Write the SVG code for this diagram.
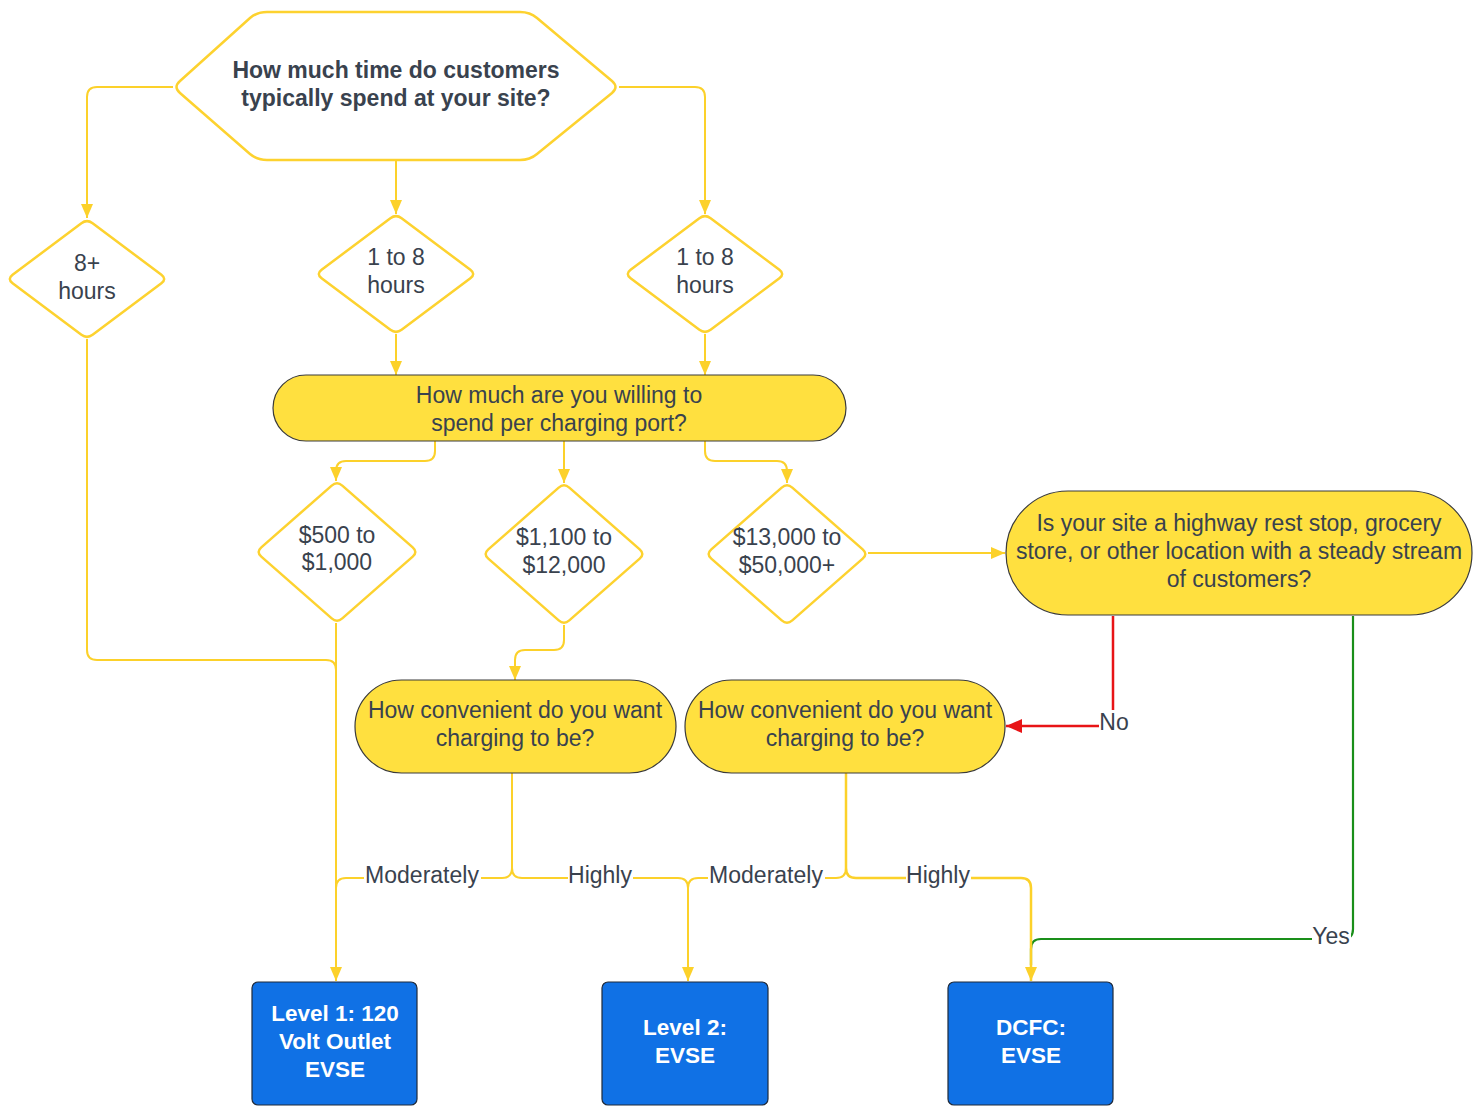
<svg xmlns="http://www.w3.org/2000/svg" width="1481" height="1106" viewBox="0 0 1481 1106">
<style>
  .t{font-family:"Liberation Sans",Arial,sans-serif;font-size:23px;fill:#39424e;text-anchor:middle}
  .tb{font-weight:bold}
  .w{font-family:"Liberation Sans",Arial,sans-serif;font-size:22.5px;font-weight:bold;fill:#ffffff;text-anchor:middle}
  .dia{fill:#ffffff;stroke:#fdd22f;stroke-width:2.5}
  .pill{fill:#ffe03f;stroke:#3a3a3a;stroke-width:1.2}
  .box{fill:#1071e5;stroke:#1f2a3a;stroke-width:1.2}
  .c{fill:none;stroke:#fcd12a;stroke-width:2}
  .cr{fill:none;stroke:#e81416;stroke-width:2.5}
  .cg{fill:none;stroke:#1a8f1a;stroke-width:2.2}
  .lb{fill:#ffffff}
</style>
<defs>
  <marker id="ay" viewBox="0 0 14 12" refX="14" refY="6" markerWidth="14" markerHeight="12" markerUnits="userSpaceOnUse" orient="auto">
    <path d="M0,0 L14,6 L0,12 Z" fill="#fcd12a"/>
  </marker>
  <marker id="ar" viewBox="0 0 16 14" refX="16" refY="7" markerWidth="16" markerHeight="14" markerUnits="userSpaceOnUse" orient="auto">
    <path d="M0,0 L16,7 L0,14 Z" fill="#e81416"/>
  </marker>
  <path id="d1" d="M -5.6,-55.8 Q 0,-60 5.6,-55.8 L 74.4,-4.2 Q 80,0 74.4,4.2 L 5.6,55.8 Q 0,60 -5.6,55.8 L -74.4,4.2 Q -80,0 -74.4,-4.2 Z"/>
  <path id="d2" d="M -5.3,-66.4 Q 0,-71 5.3,-66.4 L 75.7,-4.6 Q 81,0 75.7,4.6 L 5.3,66.4 Q 0,71 -5.3,66.4 L -75.7,4.6 Q -81,0 -75.7,-4.6 Z"/>
</defs>
<rect width="1481" height="1106" fill="#ffffff"/>

<g id="connectors">
  <path class="c" d="M173,87 H97 Q87,87 87,97 V218" marker-end="url(#ay)"/>
  <path class="c" d="M396,160 V214" marker-end="url(#ay)"/>
  <path class="c" d="M619,87 H695 Q705,87 705,97 V214" marker-end="url(#ay)"/>
  <path class="c" d="M396,334 V375" marker-end="url(#ay)"/>
  <path class="c" d="M705,334 V375" marker-end="url(#ay)"/>
  <path class="c" d="M87,339 V650 Q87,660 97,660 H326 Q336,660 336,670"/>
  <path class="c" d="M336,623 V981" marker-end="url(#ay)"/>
  <path class="c" d="M435,441 V451 Q435,461 425,461 H346 Q336,461 336,471 V481" marker-end="url(#ay)"/>
  <path class="c" d="M564,441 V483" marker-end="url(#ay)"/>
  <path class="c" d="M705,441 V451 Q705,461 715,461 H777 Q787,461 787,471 V483" marker-end="url(#ay)"/>
  <path class="c" d="M868,553 H1005" marker-end="url(#ay)"/>
  <path class="c" d="M564,625 V640 Q564,650 554,650 H525 Q515,650 515,660 V680" marker-end="url(#ay)"/>
  <path class="c" d="M512,773 V868 Q512,878 502,878 H346 Q336,878 336,888"/>
  <path class="c" d="M512,773 V868 Q512,878 522,878 H678 Q688,878 688,888 V981" marker-end="url(#ay)"/>
  <path class="c" d="M846,773 V868 Q846,878 836,878 H698 Q688,878 688,888"/>
  <path class="cg" d="M1353,616 V929 Q1353,939 1343,939 H1041 Q1031,939 1031,949 V965"/>
  <path class="c" style="stroke-width:2.5" d="M846,773 V868 Q846,878 856,878 H1021 Q1031,878 1031,888 V981" marker-end="url(#ay)"/>
  <path class="cr" d="M1113,616 V726 H1006" marker-end="url(#ar)"/>

  <rect class="lb" x="364" y="864" width="117" height="28"/>
  <text class="t" x="422" y="883">Moderately</text>
  <rect class="lb" x="568" y="864" width="65" height="28"/>
  <text class="t" x="600" y="883">Highly</text>
  <rect class="lb" x="708" y="864" width="117" height="28"/>
  <text class="t" x="766" y="883">Moderately</text>
  <rect class="lb" x="906" y="864" width="65" height="28"/>
  <text class="t" x="938" y="883">Highly</text>
  <rect class="lb" x="1099" y="710" width="30" height="26"/>
  <text class="t" x="1114" y="730">No</text>
  <rect class="lb" x="1312" y="924" width="39" height="26"/>
  <text class="t" x="1331" y="944">Yes</text>
</g>

<g id="q-time">
  <path class="dia" d="M180,81 L250,18 Q257,12 267,12 L520,12 Q530,12 537,18 L612,81 Q619,87 612,93 L537,154 Q530,160 520,160 L267,160 Q257,160 250,154 L180,93 Q173,87 180,81 Z"/>
  <text class="t tb" x="396" y="78">How much time do customers</text>
  <text class="t tb" x="396" y="106">typically spend at your site?</text>
</g>

<g id="d-8plus">
  <use href="#d1" class="dia" transform="translate(87,279)"/>
  <text class="t" x="87" y="271">8+</text>
  <text class="t" x="87" y="299">hours</text>
</g>
<g id="d-1to8-a">
  <use href="#d1" class="dia" transform="translate(396,274)"/>
  <text class="t" x="396" y="265">1 to 8</text>
  <text class="t" x="396" y="293">hours</text>
</g>
<g id="d-1to8-b">
  <use href="#d1" class="dia" transform="translate(705,274)"/>
  <text class="t" x="705" y="265">1 to 8</text>
  <text class="t" x="705" y="293">hours</text>
</g>

<g id="q-spend">
  <rect class="pill" x="273" y="375" width="573" height="66" rx="33"/>
  <text class="t" x="559" y="403">How much are you willing to</text>
  <text class="t" x="559" y="431">spend per charging port?</text>
</g>

<g id="d-500">
  <use href="#d2" class="dia" transform="translate(337,552)"/>
  <text class="t" x="337" y="543">$500 to</text>
  <text class="t" x="337" y="570">$1,000</text>
</g>
<g id="d-1100">
  <use href="#d2" class="dia" transform="translate(564,554)"/>
  <text class="t" x="564" y="545">$1,100 to</text>
  <text class="t" x="564" y="573">$12,000</text>
</g>
<g id="d-13000">
  <use href="#d2" class="dia" transform="translate(787,554)"/>
  <text class="t" x="787" y="545">$13,000 to</text>
  <text class="t" x="787" y="573">$50,000+</text>
</g>

<g id="q-site">
  <rect class="pill" x="1006" y="491" width="466" height="124" rx="62"/>
  <text class="t" x="1239" y="531">Is your site a highway rest stop, grocery</text>
  <text class="t" x="1239" y="559">store, or other location with a steady stream</text>
  <text class="t" x="1239" y="587">of customers?</text>
</g>

<g id="q-conv-a">
  <rect class="pill" x="355" y="680" width="321" height="93" rx="46.5"/>
  <text class="t" x="515" y="718">How convenient do you want</text>
  <text class="t" x="515" y="746">charging to be?</text>
</g>
<g id="q-conv-b">
  <rect class="pill" x="685" y="680" width="320" height="93" rx="46.5"/>
  <text class="t" x="845" y="718">How convenient do you want</text>
  <text class="t" x="845" y="746">charging to be?</text>
</g>

<g id="r-level1">
  <rect class="box" x="252" y="982" width="165" height="123" rx="6"/>
  <text class="w" x="335" y="1021">Level 1: 120</text>
  <text class="w" x="335" y="1049">Volt Outlet</text>
  <text class="w" x="335" y="1077">EVSE</text>
</g>
<g id="r-level2">
  <rect class="box" x="602" y="982" width="166" height="123" rx="6"/>
  <text class="w" x="685" y="1035">Level 2:</text>
  <text class="w" x="685" y="1063">EVSE</text>
</g>
<g id="r-dcfc">
  <rect class="box" x="948" y="982" width="165" height="123" rx="6"/>
  <text class="w" x="1031" y="1035">DCFC:</text>
  <text class="w" x="1031" y="1063">EVSE</text>
</g>
</svg>
